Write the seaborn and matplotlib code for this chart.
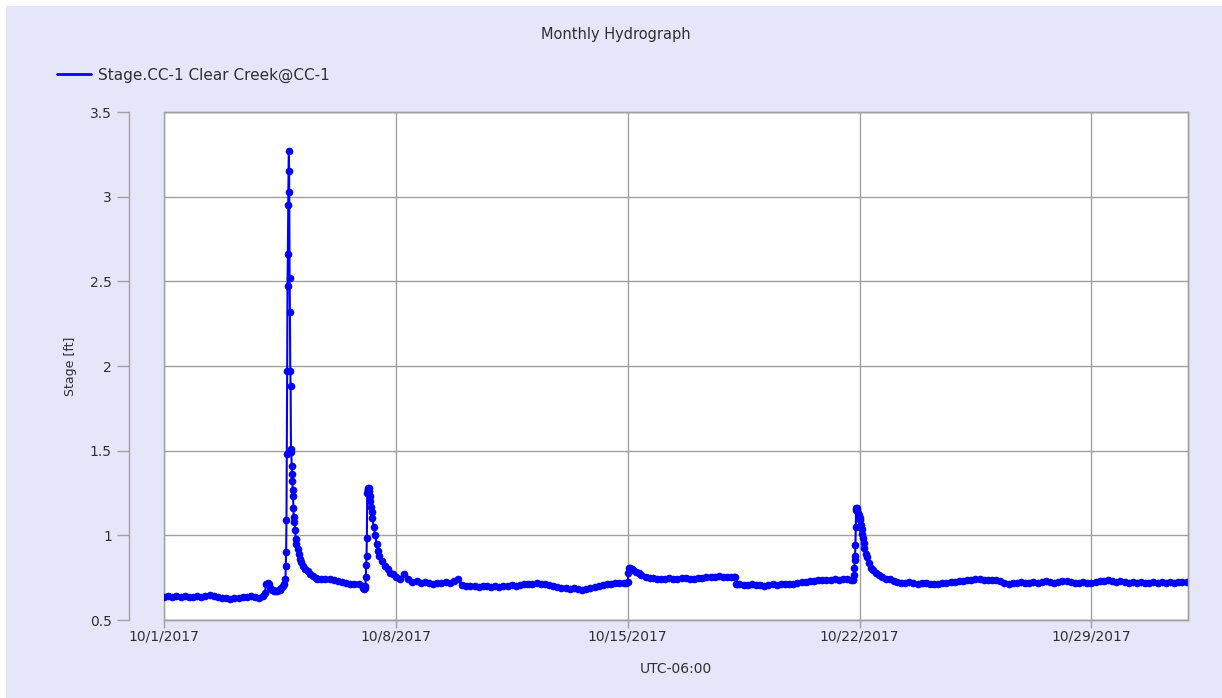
import pandas as pd
import matplotlib
matplotlib.use("Agg")
import matplotlib.pyplot as plt
import matplotlib.dates as mdates
from matplotlib.lines import Line2D
from matplotlib.patches import Rectangle
import seaborn as sns

START = pd.Timestamp("2017-10-01 00:00")
SERIES_NAME = "Stage.CC-1 Clear Creek@CC-1"

# 3-hourly readings (00, 03, ... 21 h), one row per day of October
daily_stage = [
    [0.635, 0.640, 0.635, 0.640, 0.635, 0.640, 0.635, 0.635],  # 10/1
    [0.640, 0.635, 0.640, 0.645, 0.640, 0.635, 0.630, 0.630],  # 10/2
    [0.625, 0.630, 0.630, 0.635, 0.635, 0.640, 0.635, 0.630],  # 10/3
    [0.640, 0.720, 0.680, 0.675, 0.740, 2.950, 1.320, 1.110],  # 10/4
    [0.950, 0.870, 0.820, 0.790, 0.760, 0.745, 0.740, 0.740],  # 10/5
    [0.740, 0.735, 0.730, 0.725, 0.720, 0.715, 0.710, 0.710],  # 10/6
    [0.700, 1.250, 1.170, 1.050, 0.910, 0.860, 0.810, 0.775],  # 10/7
    [0.755, 0.740, 0.770, 0.740, 0.725, 0.730, 0.720, 0.725],  # 10/8
    [0.720, 0.715, 0.720, 0.720, 0.725, 0.720, 0.730, 0.740],  # 10/9
    [0.705, 0.700, 0.700, 0.700, 0.695, 0.700, 0.700, 0.695],  # 10/10
    [0.700, 0.695, 0.700, 0.700, 0.705, 0.700, 0.705, 0.710],  # 10/11
    [0.710, 0.715, 0.720, 0.715, 0.710, 0.705, 0.700, 0.695],  # 10/12
    [0.690, 0.690, 0.685, 0.690, 0.685, 0.680, 0.685, 0.690],  # 10/13
    [0.695, 0.700, 0.705, 0.710, 0.715, 0.720, 0.720, 0.720],  # 10/14
    [0.725, 0.800, 0.785, 0.770, 0.760, 0.755, 0.750, 0.745],  # 10/15
    [0.745, 0.745, 0.750, 0.745, 0.745, 0.750, 0.750, 0.745],  # 10/16
    [0.745, 0.750, 0.750, 0.755, 0.755, 0.755, 0.760, 0.755],  # 10/17
    [0.755, 0.755, 0.710, 0.710, 0.705, 0.705, 0.710, 0.705],  # 10/18
    [0.705, 0.700, 0.705, 0.710, 0.705, 0.710, 0.710, 0.715],  # 10/19
    [0.715, 0.720, 0.725, 0.725, 0.730, 0.730, 0.735, 0.735],  # 10/20
    [0.735, 0.735, 0.740, 0.735, 0.740, 0.740, 0.735, 0.940],  # 10/21
    [1.100, 1.010, 0.890, 0.810, 0.775, 0.755, 0.745, 0.740],  # 10/22
    [0.730, 0.725, 0.720, 0.720, 0.725, 0.720, 0.715, 0.720],  # 10/23
    [0.720, 0.715, 0.710, 0.715, 0.720, 0.720, 0.725, 0.725],  # 10/24
    [0.730, 0.730, 0.735, 0.735, 0.740, 0.740, 0.735, 0.735],  # 10/25
    [0.735, 0.735, 0.730, 0.720, 0.715, 0.720, 0.720, 0.725],  # 10/26
    [0.720, 0.720, 0.725, 0.720, 0.725, 0.730, 0.725, 0.720],  # 10/27
    [0.725, 0.730, 0.730, 0.725, 0.720, 0.720, 0.725, 0.720],  # 10/28
    [0.720, 0.725, 0.730, 0.730, 0.735, 0.730, 0.725, 0.730],  # 10/29
    [0.725, 0.720, 0.725, 0.720, 0.725, 0.720, 0.720, 0.725],  # 10/30
    [0.720, 0.725, 0.720, 0.725, 0.720, 0.725, 0.725, 0.725],  # 10/31
]

# finer readings around the storm events (hours since 10/1 00:00)
storm1_hours = [72, 73, 74, 75, 76, 77, 78, 79, 80, 81, 82, 83, 84, 85, 86, 87,
                88.0, 88.25, 88.5, 88.75, 89.0, 89.25, 89.5, 89.75, 90.0, 90.25,
                90.5, 90.75, 91.0, 91.25, 91.5, 91.75, 92.0, 92.25, 92.5, 92.75,
                93.0, 93.25, 93.5, 93.75, 94.0, 94.5, 95.0, 95.5, 96.0, 96.75,
                97.5, 98.5, 99.5, 101, 102.5, 104, 106, 108, 110]
storm1_stage = [0.64, 0.66, 0.71, 0.72, 0.71, 0.69, 0.68, 0.675, 0.67, 0.67,
                0.67, 0.675, 0.68, 0.69, 0.70, 0.71,
                0.74, 0.82, 0.90, 1.09, 1.48, 1.97, 2.47, 2.66, 2.95, 3.15,
                3.27, 3.03, 2.52, 2.32, 1.97, 1.88, 1.51, 1.49, 1.41, 1.36,
                1.32, 1.27, 1.23, 1.16, 1.11, 1.08, 1.03, 0.98, 0.95, 0.92,
                0.89, 0.86, 0.84, 0.82, 0.80, 0.79, 0.77, 0.76, 0.75]

storm2_hours = [144.5, 145, 145.5, 146, 146.25, 146.5, 146.75, 147.0, 147.25,
                147.5, 147.75, 148.0, 148.25, 148.5, 149.0, 149.5, 150.0, 150.5,
                151, 152, 153, 154, 155, 156, 158, 160, 162, 164, 166, 168]
storm2_stage = [0.69, 0.685, 0.69, 0.70, 0.755, 0.825, 0.88, 0.985, 1.25,
                1.27, 1.28, 1.27, 1.28, 1.26, 1.23, 1.20, 1.17, 1.14,
                1.10, 1.05, 1.00, 0.95, 0.91, 0.88, 0.85, 0.82, 0.80, 0.78, 0.77, 0.755]

bump_hours = [335, 336, 336.5, 337, 338, 339, 340, 342, 344, 346, 349, 352]
bump_stage = [0.72, 0.725, 0.78, 0.81, 0.805, 0.80, 0.795, 0.785, 0.775, 0.765, 0.755, 0.75]

step_hours = [413, 414, 414.5, 415]
step_stage = [0.755, 0.755, 0.71, 0.71]

storm3_hours = [499.0, 499.5, 500.0, 500.25, 500.5, 500.75, 501.0, 501.25, 501.5,
                501.75, 502.0, 502.5, 503.0, 503.5, 504.0, 504.5, 505.0, 505.5,
                506.0, 506.5, 507.0, 507.5, 508.5, 509.5, 510.5, 512, 514, 516,
                518, 520, 523, 526, 529]
storm3_stage = [0.735, 0.74, 0.765, 0.81, 0.855, 0.88, 0.94, 1.05, 1.15,
                1.16, 1.15, 1.16, 1.13, 1.12, 1.10, 1.09, 1.06, 1.04,
                1.01, 0.985, 0.955, 0.925, 0.89, 0.87, 0.835, 0.81, 0.795, 0.775,
                0.765, 0.755, 0.745, 0.74, 0.73]

last_hours = [743.75]
last_stage = [0.725]

x_ticks = ["2017-10-01", "2017-10-08", "2017-10-15", "2017-10-22", "2017-10-29"]
y_ticks = [0.5, 1, 1.5, 2, 2.5, 3, 3.5]

LAVENDER = "#E6E6FA"
GRID = "#A0A0A0"
TEXT = "#303030"


def build_frame():
    events = [(storm1_hours, storm1_stage), (storm2_hours, storm2_stage),
              (bump_hours, bump_stage), (step_hours, step_stage),
              (storm3_hours, storm3_stage), (last_hours, last_stage)]
    rows = []
    for d, row in enumerate(daily_stage):
        for k, v in enumerate(row):
            h = d * 24 + 3 * k
            # the finer event readings replace the 3-hourly ones
            if any(ev_h[0] <= h <= ev_h[-1] for ev_h, _ in events):
                continue
            rows.append((h, v))
    for ev_h, ev_v in events:
        rows.extend(zip(ev_h, ev_v))
    df = pd.DataFrame(rows, columns=["hours", "stage"]).sort_values("hours")
    df["time"] = START + pd.to_timedelta(df["hours"], unit="h")
    return df


def main():
    sns.set_theme(style="white")
    plt.rcParams["font.family"] = ["DejaVu Sans"]

    df = build_frame()

    fig = plt.figure(figsize=(12.22, 6.98), dpi=100, facecolor="white")
    fig.patches.append(Rectangle((6 / 1222, 0), 1, 1 - 6 / 698, transform=fig.transFigure,
                                 facecolor=LAVENDER, edgecolor="none", zorder=-10))
    ax = fig.add_axes([164 / 1222, 78 / 698, 1024 / 1222, 508 / 698])
    ax.set_facecolor("white")

    sns.lineplot(data=df, x="time", y="stage", ax=ax, color="#0000FF",
                 estimator=None, sort=True, linewidth=1.5, marker="o",
                 markersize=5.5, markeredgewidth=0, legend=False)

    ax.set_xlim(START, START + pd.Timedelta(hours=742))
    ax.set_ylim(y_ticks[0], y_ticks[-1])
    ax.set_yticks(y_ticks)
    ax.set_yticklabels([f"{t:g}" for t in y_ticks])
    ax.set_xticks(pd.to_datetime(x_ticks))
    ax.xaxis.set_major_formatter(
        plt.FuncFormatter(lambda v, pos: (lambda d: f"{d.month}/{d.day}/{d.year}")(mdates.num2date(v))))

    ax.grid(True, color=GRID, linewidth=1)
    ax.set_axisbelow(True)
    for side in ["top", "right", "bottom", "left"]:
        ax.spines[side].set_color(GRID)
        ax.spines[side].set_linewidth(1)
    ax.spines["left"].set_position(("outward", 25))
    ax.patch.set_edgecolor(GRID)
    ax.patch.set_linewidth(1)

    ax.tick_params(axis="x", direction="out", length=6, width=1, color=GRID,
                   pad=1, labelsize=10, labelcolor=TEXT, bottom=True)
    ax.tick_params(axis="y", direction="out", length=9, width=1, color=GRID,
                   pad=3.5, labelsize=10, labelcolor=TEXT, left=True)

    ax.set_xlabel("UTC-06:00", fontsize=10, color=TEXT, labelpad=13)
    ax.set_ylabel("Stage [ft]", fontsize=9, color=TEXT,
                  family=["Liberation Sans Narrow", "DejaVu Sans"])
    ax.yaxis.set_label_coords(-0.085, 0.5)

    fig.text(0.504, 1 - 35 / 698, "Monthly Hydrograph", ha="center", va="center",
             fontsize=10.5, color=TEXT)
    fig.legend(handles=[Line2D([], [], color="#0000FF", linewidth=2)],
               labels=[SERIES_NAME], loc="center left",
               bbox_to_anchor=(57 / 1222, 1 - 75 / 698), frameon=False,
               fontsize=11, handlelength=2.2, handletextpad=0.5,
               borderpad=0, borderaxespad=0, labelcolor=TEXT)

    fig.savefig("out.png", dpi=100, facecolor=fig.get_facecolor())


if __name__ == "__main__":
    main()
